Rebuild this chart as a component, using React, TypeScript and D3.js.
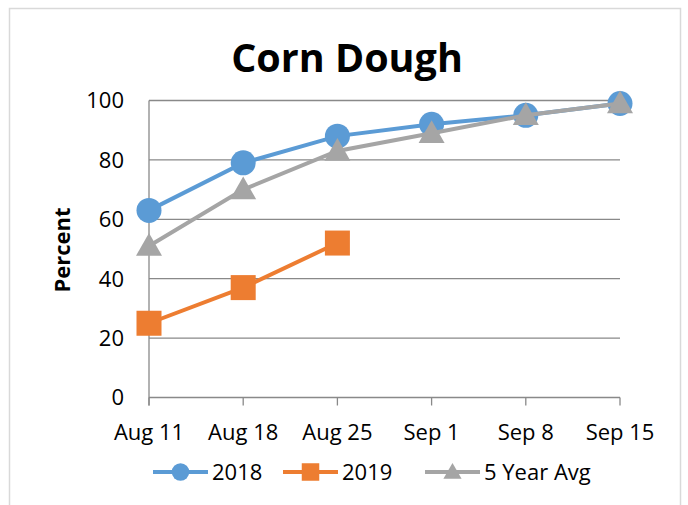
import React from "react";
import * as d3 from "d3";

const categories = ["Aug 11", "Aug 18", "Aug 25", "Sep 1", "Sep 8", "Sep 15"];
const series2018 = [63, 79, 88, 92, 95, 99];
const series2019: (number | null)[] = [25, 37, 52, null, null, null];
const series5yr = [51, 70, 83, 89, 95, 99];
const yTicks = [0, 20, 40, 60, 80, 100];
const seriesNames = ["2018", "2019", "5 Year Avg"];
const colors = ["#5B9BD5", "#ED7D31", "#A5A5A5"];

const W = 688, H = 505;
const FONT = "'Open Sans', 'Liberation Sans', sans-serif";

export default function App() {
  const x = d3.scalePoint<string>().domain(categories).range([149, 620]);
  const y = d3.scaleLinear().domain([0, 100]).range([397.5, 100.5]);
  const all = [series2018, series2019, series5yr];
  const line = d3
    .line<number | null>()
    .defined((d) => d != null)
    .x((_, i) => x(categories[i])!)
    .y((d) => y(d as number));

  const marker = (k: number, cx: number, cy: number, key: string, sc = 1) => {
    if (k === 0) return <circle key={key} cx={cx} cy={cy} r={12.5 * sc} fill={colors[0]} />;
    if (k === 1) {
      const h = 12.5 * sc;
      return <rect key={key} x={cx - h} y={cy - h} width={2 * h} height={2 * h} fill={colors[1]} />;
    }
    const s = 13 * sc;
    return (
      <path
        key={key}
        d={`M${cx},${cy - s} L${cx + s},${cy + s * 0.75} L${cx - s},${cy + s * 0.75} Z`}
        fill={colors[2]}
      />
    );
  };

  const legendItems = [
    { lx: 153, tx: 212 },
    { lx: 283, tx: 342 },
    { lx: 425, tx: 484 },
  ];
  const ly = 472;

  return (
    <svg width={W} height={H} style={{ position: "absolute", left: 0, top: 0, background: "#fff" }}>
      <rect x={9.5} y={8.5} width={671} height={510} fill="#fff" stroke="#D9D9D9" strokeWidth={1.5} />
      <text x={347} y={72} textAnchor="middle" fontFamily={FONT} fontWeight="bold" fontSize={39.5} fill="#000">
        Corn Dough
      </text>
      {yTicks.map((t) => (
        <g key={t}>
          <line x1={149} x2={620} y1={y(t)} y2={y(t)} stroke="#898989" strokeWidth={1.3} />
          <text x={124} y={y(t)} dy="0.36em" textAnchor="end" fontFamily={FONT} fontSize={22} fill="#000">
            {t}
          </text>
        </g>
      ))}
      <line x1={149} x2={149} y1={y(100)} y2={y(0) + 8} stroke="#898989" strokeWidth={1.3} />
      {categories.map((c) => (
        <g key={c}>
          <line x1={x(c)} x2={x(c)} y1={y(0)} y2={y(0) + 8} stroke="#898989" strokeWidth={1.3} />
          <text x={x(c)} y={440} textAnchor="middle" fontFamily={FONT} fontSize={22} fill="#000">
            {c}
          </text>
        </g>
      ))}
      <text
        transform={`translate(62,250) rotate(-90)`}
        textAnchor="middle"
        dy="0.35em"
        fontFamily={FONT}
        fontWeight="bold"
        fontSize={22}
        fill="#000"
      >
        Percent
      </text>
      {all.map((s, k) => (
        <g key={k}>
          <path d={line(s) || ""} fill="none" stroke={colors[k]} strokeWidth={4} />
          {s.map((v, i) => (v == null ? null : marker(k, x(categories[i])!, y(v), `${k}-${i}`)))}
        </g>
      ))}
      {legendItems.map((li, k) => (
        <g key={k}>
          <line x1={li.lx} x2={li.lx + 55} y1={ly} y2={ly} stroke={colors[k]} strokeWidth={4} />
          {marker(k, li.lx + 27.5, ly, `lg${k}`, 0.7)}
          <text x={li.tx} y={ly} dy="0.36em" fontFamily={FONT} fontSize={22} fill="#000">
            {seriesNames[k]}
          </text>
        </g>
      ))}
    </svg>
  );
}
